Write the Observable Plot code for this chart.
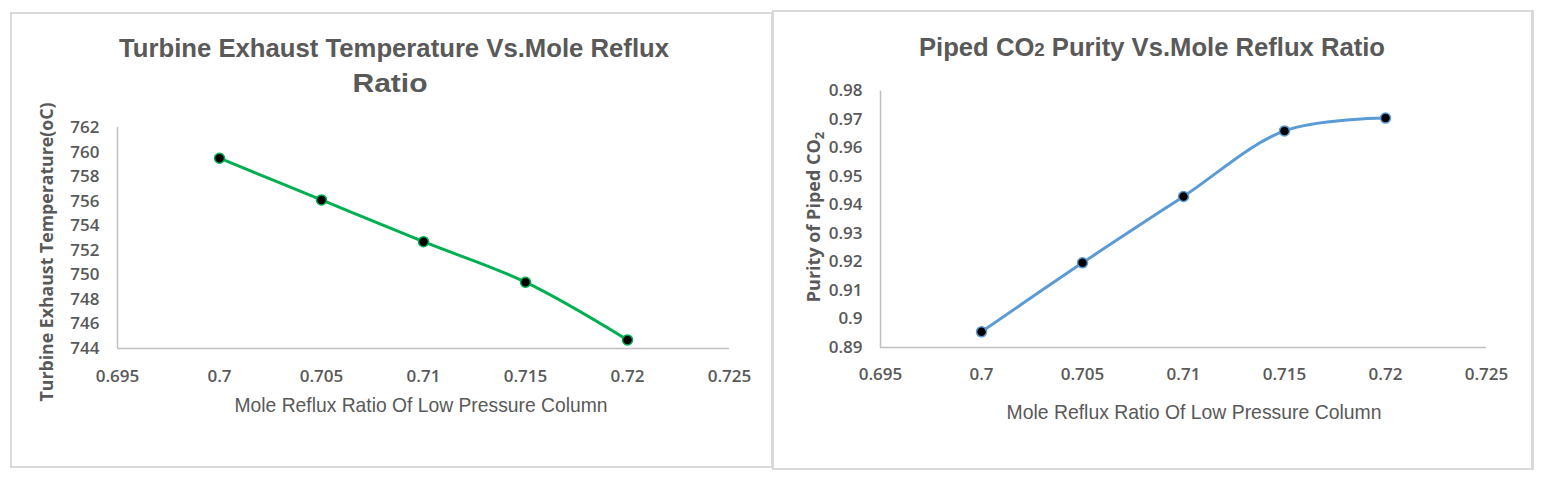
<!DOCTYPE html>
<html><head><meta charset="utf-8">
<script src="https://cdn.jsdelivr.net/npm/d3@7"></script>
<script src="https://cdn.jsdelivr.net/npm/@observablehq/plot@0.6"></script>
<style>
html,body{margin:0;padding:0;background:#fff;}
#page{position:relative;width:1546px;height:485px;overflow:hidden;background:#fff;}
.panel{position:absolute;border:2px solid #d9d9d9;box-sizing:border-box;}
.abs{position:absolute;left:0;top:0;}
</style></head>
<body><div id="page">
<div class="panel" style="left:10px;top:12px;width:763px;height:456px"></div>
<div class="panel" style="left:772px;top:10px;width:762px;height:460px;border-right-width:3px"></div>
</div>
<script>
// ---- data ----
const refluxRatio = [0.7, 0.705, 0.71, 0.715, 0.72];
const exhaustTemp = [759.5, 756.1, 752.7, 749.4, 744.7];
const co2Purity = [0.8955, 0.9197, 0.943, 0.966, 0.9705];
const xTicks = [0.695, 0.7, 0.705, 0.71, 0.715, 0.72, 0.725];
const xTickLabels = ["0.695", "0.7", "0.705", "0.71", "0.715", "0.72", "0.725"];
const tempTicks = [744, 746, 748, 750, 752, 754, 756, 758, 760, 762];
const purityTicks = [0.89, 0.9, 0.91, 0.92, 0.93, 0.94, 0.95, 0.96, 0.97, 0.98];
const purityTickLabels = ["0.89", "0.9", "0.91", "0.92", "0.93", "0.94", "0.95", "0.96", "0.97", "0.98"];

const tempData = refluxRatio.map((x, i) => ({x, y: exhaustTemp[i]}));
const purityData = refluxRatio.map((x, i) => ({x, y: co2Purity[i]}));

const page = document.getElementById("page");
const axisStyle = {fontFamily: "'Open Sans', sans-serif", fontSize: "17px", fontWeight: 600, color: "#595959", background: "none", overflow: "visible"};
const xFmt = d => xTickLabels[xTicks.findIndex(t => Math.abs(t - d) < 1e-9)];

const left = Plot.plot({
  width: 773, height: 485,
  marginLeft: 117, marginRight: 44, marginTop: 127, marginBottom: 137,
  style: axisStyle,
  x: {domain: [0.695, 0.725], ticks: xTicks, tickFormat: xFmt, tickSize: 0, tickPadding: 21, label: null},
  y: {domain: [744, 762], ticks: tempTicks, tickSize: 0, tickPadding: 18, label: null},
  marks: [
    Plot.ruleY([744], {stroke: "#bfbfbf", strokeWidth: 1.5}),
    Plot.ruleX([0.695], {stroke: "#bfbfbf", strokeWidth: 1.5}),
    Plot.line(tempData, {x: "x", y: "y", stroke: "#00b050", strokeWidth: 3, curve: "catmull-rom"}),
    Plot.dot(tempData, {x: "x", y: "y", r: 5, fill: "#000", stroke: "#00b050", strokeWidth: 1.5})
  ]
});
left.classList.add("abs");
left.style.left = "0px";
page.appendChild(left);

const right = Plot.plot({
  width: 773, height: 485,
  marginLeft: 107, marginRight: 60, marginTop: 90.5, marginBottom: 138,
  style: axisStyle,
  x: {domain: [0.695, 0.725], ticks: xTicks, tickFormat: xFmt, tickSize: 0, tickPadding: 20, label: null},
  y: {domain: [0.89, 0.98], ticks: purityTicks, tickFormat: d => purityTickLabels[purityTicks.findIndex(t => Math.abs(t - d) < 1e-9)], tickSize: 0, tickPadding: 18, label: null},
  marks: [
    Plot.ruleY([0.89], {stroke: "#bfbfbf", strokeWidth: 1.5}),
    Plot.ruleX([0.695], {stroke: "#bfbfbf", strokeWidth: 1.5}),
    Plot.line(purityData, {x: "x", y: "y", stroke: "#5b9bd5", strokeWidth: 3, curve: "catmull-rom"}),
    Plot.dot(purityData, {x: "x", y: "y", r: 5, fill: "#000", stroke: "#5b9bd5", strokeWidth: 1.5})
  ]
});
right.classList.add("abs");
right.style.left = "773px";
page.appendChild(right);

// ---- titles ----
const NS = "http://www.w3.org/2000/svg";
const svg = document.createElementNS(NS, "svg");
svg.setAttribute("width", 1546); svg.setAttribute("height", 485);
svg.setAttribute("class", "abs");
svg.style.pointerEvents = "none";
svg.innerHTML = `
<g fill="#595959" font-family="'Liberation Sans Narrow','Arial Narrow','Liberation Sans',sans-serif">
  <text x="394" y="57" text-anchor="middle" font-size="26" font-weight="bold" textLength="550" lengthAdjust="spacingAndGlyphs">Turbine Exhaust Temperature Vs.Mole Reflux</text>
  <text x="390" y="92" text-anchor="middle" font-size="26" font-weight="bold" textLength="75" lengthAdjust="spacingAndGlyphs">Ratio</text>
  <text x="1152" y="56" text-anchor="middle" font-size="26" font-weight="bold" textLength="466" lengthAdjust="spacingAndGlyphs">Piped CO<tspan font-size="19">2</tspan> Purity Vs.Mole Reflux Ratio</text>
  <text x="421" y="412" text-anchor="middle" font-size="21" textLength="373" lengthAdjust="spacingAndGlyphs">Mole Reflux Ratio Of Low Pressure Column</text>
  <text x="1194" y="419" text-anchor="middle" font-size="21" textLength="375" lengthAdjust="spacingAndGlyphs">Mole Reflux Ratio Of Low Pressure Column</text>
</g>
<g fill="#595959" font-family="'Open Sans',sans-serif" font-weight="bold" font-size="18">
  <text transform="translate(53,252) rotate(-90)" text-anchor="middle" textLength="299" lengthAdjust="spacingAndGlyphs">Turbine Exhaust Temperature(oC)</text>
  <text transform="translate(820,217) rotate(-90)" text-anchor="middle">Purity of Piped CO<tspan font-size="13" dy="4">2</tspan></text>
</g>`;
page.appendChild(svg);
</script>
</body></html>
